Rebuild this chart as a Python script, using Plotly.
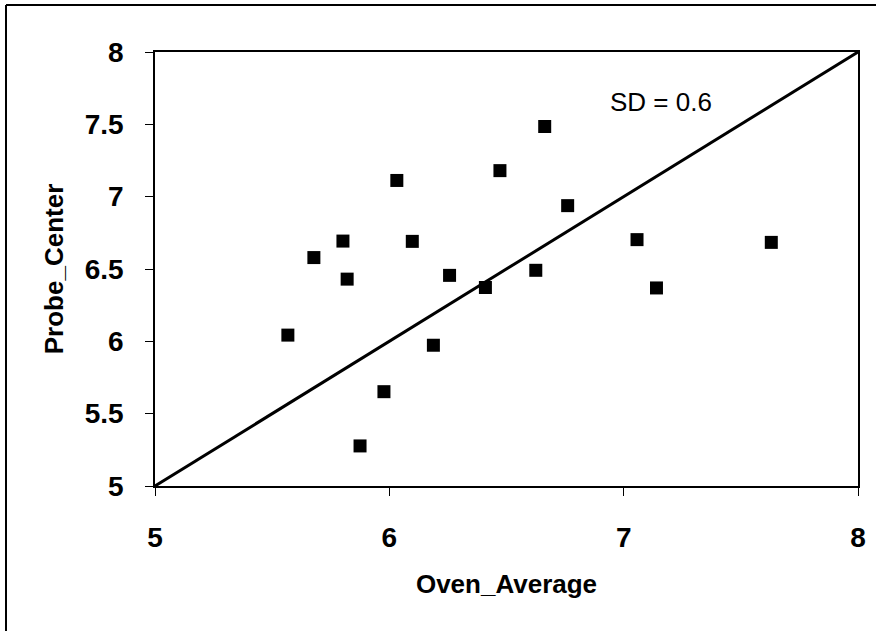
import plotly.graph_objects as go

# Oven average vs. probe centre readings
oven_average = [6.663, 6.472, 6.032, 6.761, 5.802, 6.098, 7.057, 7.630, 5.678,
                5.820, 6.257, 6.625, 6.410, 7.140, 5.567, 6.188, 5.977, 5.875]
probe_center = [7.485, 7.180, 7.112, 6.938, 6.693, 6.691, 6.703, 6.684, 6.579,
                6.430, 6.456, 6.491, 6.372, 6.369, 6.043, 5.973, 5.652, 5.277]

# Line of equality
ref_x = [5, 8]
ref_y = [5, 8]

tick_vals_x = [5, 6, 7, 8]
tick_text_x = ["5", "6", "7", "8"]
tick_vals_y = [5, 5.5, 6, 6.5, 7, 7.5, 8]
tick_text_y = ["5", "5.5", "6", "6.5", "7", "7.5", "8"]

sd_label = "SD = 0.6"

FONT = "Liberation Sans, Arial, sans-serif"

fig = go.Figure()
fig.add_trace(go.Scatter(x=ref_x, y=ref_y, mode="lines",
                         line=dict(color="black", width=3),
                         hoverinfo="skip", showlegend=False, cliponaxis=False))
fig.add_trace(go.Scatter(x=oven_average, y=probe_center, mode="markers",
                         marker=dict(symbol="square", size=13, color="black"),
                         showlegend=False))

fig.add_annotation(x=7.16, y=7.655, xref="x", yref="y", text=sd_label,
                   showarrow=False, font=dict(family=FONT, size=26, color="black"))

# Frame around the whole figure (left and top edges)
fig.add_shape(type="line", xref="paper", yref="paper",
              x0=(6 - 155) / 703, x1=(6 - 155) / 703,
              y0=1 + 47 / 434, y1=-(150 / 434),
              line=dict(color="black", width=2))
fig.add_shape(type="line", xref="paper", yref="paper",
              x0=(6 - 155) / 703, x1=(876 - 155) / 703,
              y0=1 + 47 / 434, y1=1 + 47 / 434,
              line=dict(color="black", width=2))

axis_common = dict(showgrid=False, zeroline=False, showline=True, mirror=True,
                   linecolor="black", linewidth=1.5, ticks="outside", ticklen=8,
                   tickcolor="black", tickwidth=1)

fig.update_xaxes(range=[5, 8], tickvals=tick_vals_x, ticktext=tick_text_x,
                 tickfont=dict(family=FONT, size=28, color="black", weight="bold"),
                 ticklabelstandoff=18,
                 title=dict(text="Oven_Average", standoff=22,
                            font=dict(family=FONT, size=26, color="black", weight="bold")),
                 **axis_common)
fig.update_yaxes(range=[5, 8], tickvals=tick_vals_y, ticktext=tick_text_y,
                 tickfont=dict(family=FONT, size=28, color="black", weight="bold"),
                 ticklabelstandoff=16,
                 title=dict(text="Probe_Center", standoff=14,
                            font=dict(family=FONT, size=26, color="black", weight="bold")),
                 **axis_common)

fig.update_layout(width=879, height=631,
                  margin=dict(l=155, r=21, t=52, b=145),
                  plot_bgcolor="white", paper_bgcolor="white")

fig.write_html("out.html")
